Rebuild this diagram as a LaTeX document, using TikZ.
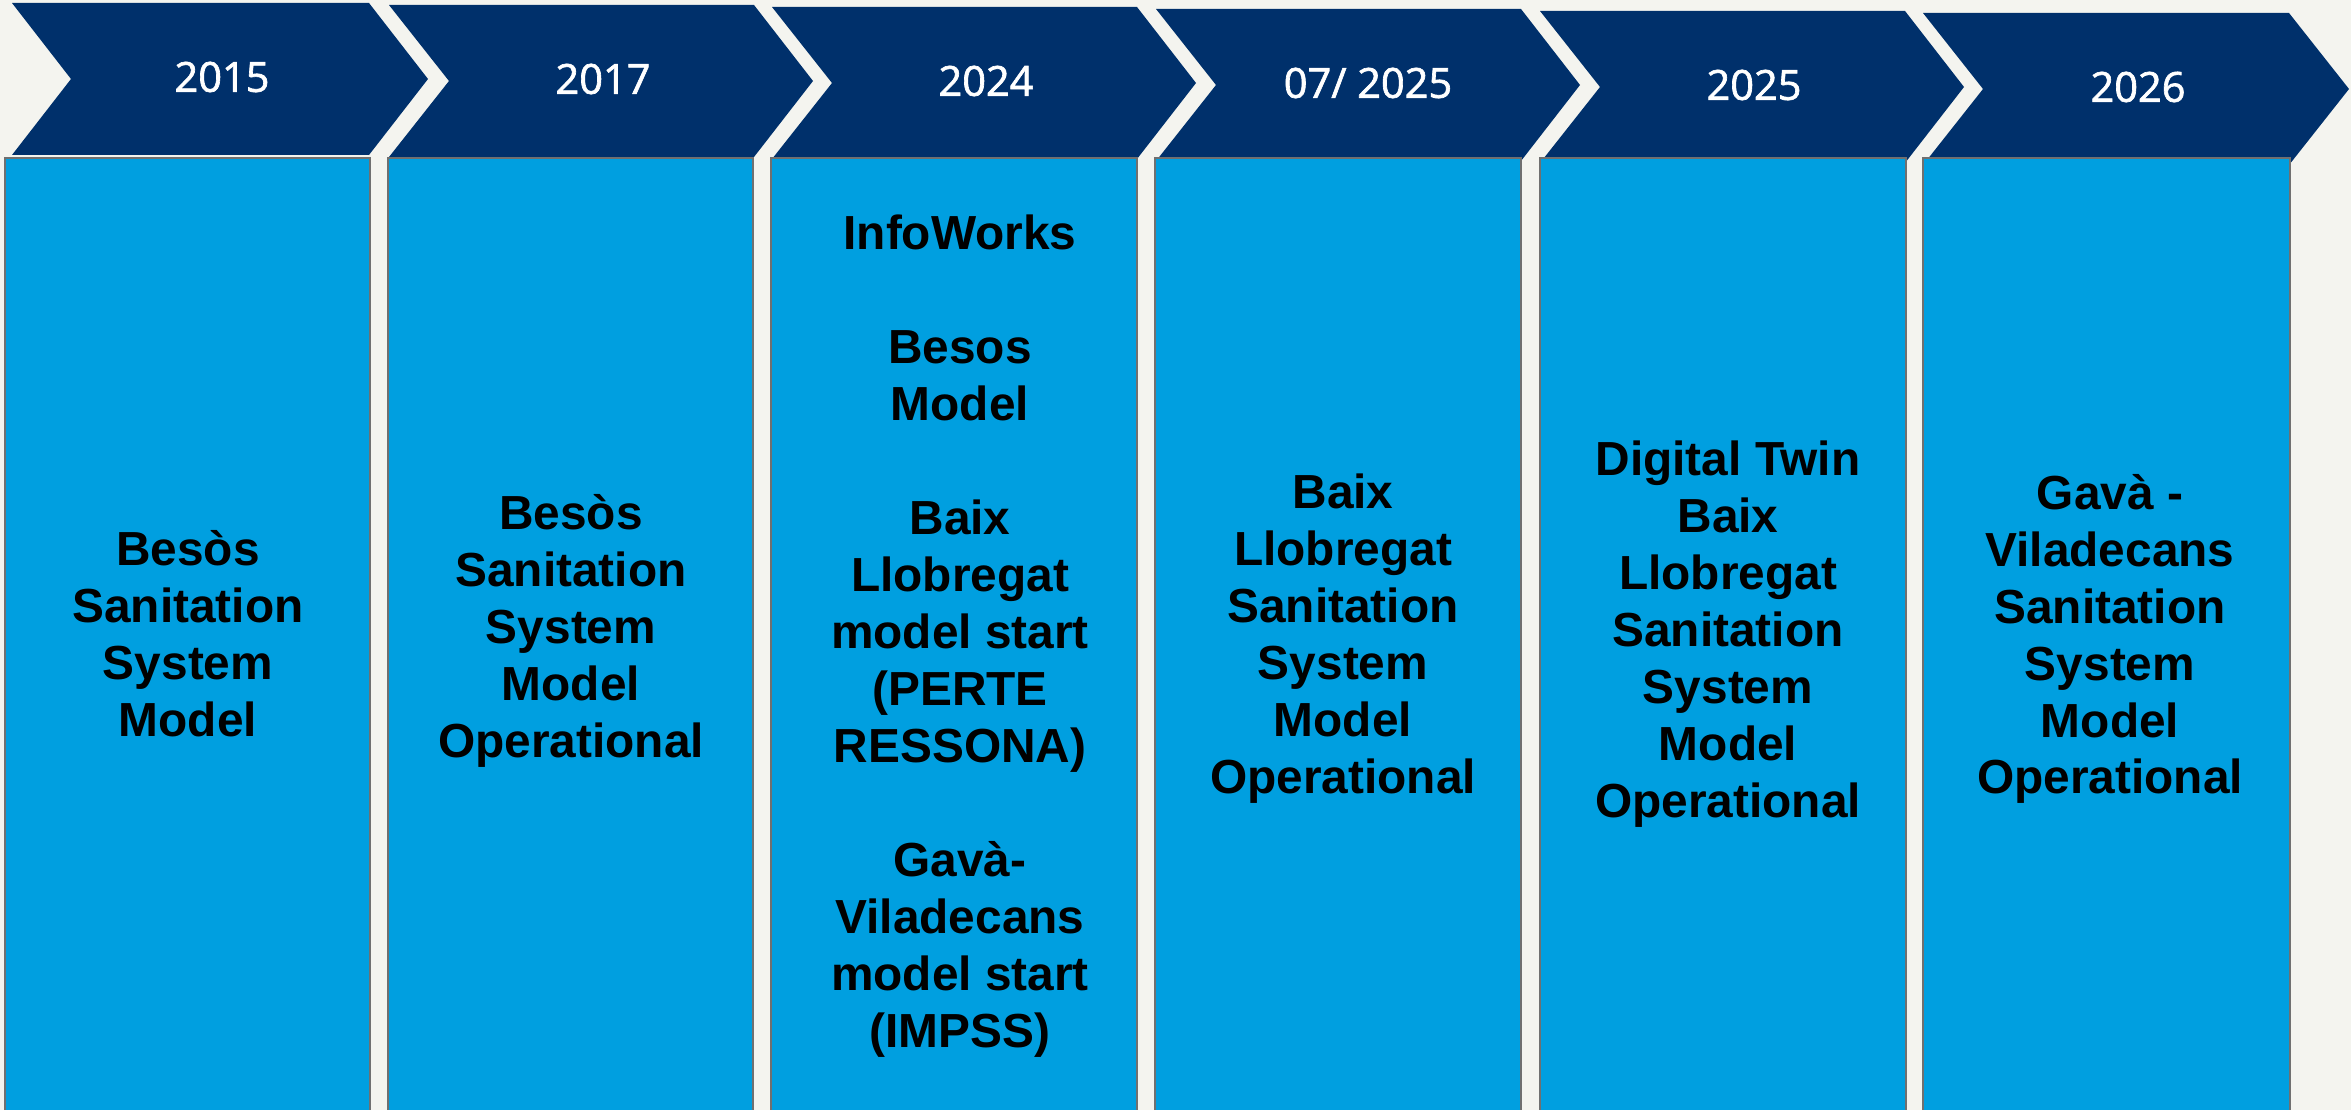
\documentclass[tikz,border=0pt]{standalone}
\usepackage{fontspec}
\setmainfont{Liberation Sans}
\newfontfamily\yearfont{Open Sans}[FakeBold=1.6]
\usepackage{tikz,xcolor}
\definecolor{paper}{HTML}{F4F4EF}
\definecolor{navy}{HTML}{00306B}
\definecolor{sky}{HTML}{009FE0}
\definecolor{edge}{HTML}{707070}

\begin{document}
\begin{tikzpicture}[x=0.01cm,y=-0.01cm,
  chevron/.style={fill=navy},
  yearlabel/.style={text=white,font=\yearfont\fontsize{11.8}{14}\selectfont},
  panel/.style={fill=sky,draw=edge,line width=0.6pt},
  paneltext/.style={align=center,font=\bfseries\fontsize{13.6}{16.2}\selectfont}]
  \useasboundingbox (0,0) rectangle (2351,1110);
  \fill[paper] (0,0) rectangle (2351,1110);
  \clip (0,0) rectangle (2351,1110);

  % arrows with the years
  \fill[chevron] (12,3) -- (369,3) -- (428,79) -- (369,155) -- (12,155) -- (71,79) -- cycle;
  \fill[chevron] (389,5) -- (754,5) -- (813,81) -- (754,157) -- (389,157) -- (449,81) -- cycle;
  \fill[chevron] (772,7) -- (1137,7) -- (1196,83) -- (1137,159) -- (772,159) -- (832,83) -- cycle;
  \fill[chevron] (1156,9) -- (1521,9) -- (1580,85) -- (1521,161) -- (1156,161) -- (1216,85) -- cycle;
  \fill[chevron] (1540,11) -- (1905,11) -- (1964,87) -- (1905,163) -- (1540,163) -- (1600,87) -- cycle;
  \fill[chevron] (1923,13) -- (2289,13) -- (2349,89) -- (2289,165) -- (1923,165) -- (1983,89) -- cycle;

  \node[yearlabel] (y1) at (222,77) {2015};
  \node[yearlabel] (y2) at (603,79) {2017};
  \node[yearlabel] (y3) at (986,81) {2024};
  \node[yearlabel] (y4) at (1368,83) {07/ 2025};
  \node[yearlabel] (y5) at (1754,85) {2025};
  \node[yearlabel] (y6) at (2138,87) {2026};

  % panels below
  \filldraw[panel] (5,158) rectangle (370,1120);
  \filldraw[panel] (388,158) rectangle (753,1120);
  \filldraw[panel] (771,158) rectangle (1137,1120);
  \filldraw[panel] (1155,158) rectangle (1521,1120);
  \filldraw[panel] (1540,158) rectangle (1906,1120);
  \filldraw[panel] (1923,158) rectangle (2290,1120);

  \node[paneltext] (p1) at (188,634) {Besòs\\Sanitation\\System\\Model};
  \node[paneltext] (p2) at (571,631) {Besòs\\Sanitation\\System\\Model\\Operational};
  \node[paneltext] (p3) at (960,636) {InfoWorks\\[16.2pt]Besos\\Model\\[16.2pt]Baix\\Llobregat\\model start\\(PERTE\\RESSONA)\\[16.2pt]Gavà-\\Viladecans\\model start\\(IMPSS)};
  \node[paneltext] (p4) at (1343,639) {Baix\\Llobregat\\Sanitation\\System\\Model\\Operational};
  \node[paneltext] (p5) at (1728,634) {Digital Twin\\Baix\\Llobregat\\Sanitation\\System\\Model\\Operational};
  \node[paneltext] (p6) at (2110,639) {Gavà -\\Viladecans\\Sanitation\\System\\Model\\Operational};
\end{tikzpicture}
\end{document}
